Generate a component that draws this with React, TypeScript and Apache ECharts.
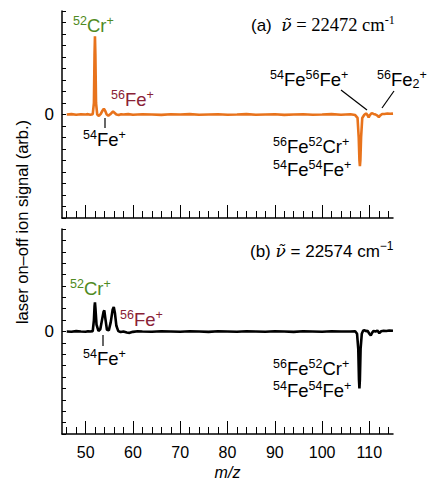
import React, { useEffect, useRef } from "react";
import * as echarts from "echarts";

// m/z, signal (arb.) — panel (a), ν̃ = 22472 cm-1
const spectrumA: [number, number][] = [
  [46, 0], [47, 0.03], [48, -0.02], [49, 0.02], [50, 0], [50.5, 0.03], [51, -0.02], [51.5, 0.03],
  [51.75, 1.0], [51.88, 5.2], [51.97, 6.8], [52.06, 5.2], [52.2, 1.0], [52.45, 0], [52.8, -0.12],
  [53.2, 0.05], [53.5, 0.3], [53.85, 0.5], [54.15, 0.3], [54.45, 0], [54.8, -0.1], [55.2, 0.02],
  [55.5, 0.15], [55.8, 0.25], [56.1, 0.15], [56.5, 0], [57, -0.05], [57.5, 0.02], [58, 0],
  [59, 0.03], [60, -0.02], [62, 0.02], [64, 0], [66, -0.03], [68, 0.02], [70, 0], [72, 0.03],
  [74, -0.02], [76, 0], [78, 0.02], [80, -0.02], [82, 0], [84, 0.03], [86, -0.02], [88, 0],
  [90, 0.02], [92, -0.03], [94, 0], [96, 0.02], [98, -0.02], [100, 0], [102, 0.03], [104, -0.02],
  [105, 0], [106, 0.02], [107, -0.05], [107.5, -0.3], [107.75, -2.0], [107.9, -4.0], [108, -4.5],
  [108.1, -4.0], [108.25, -2.0], [108.5, -0.3], [108.9, -0.05], [109.3, 0.1], [109.6, -0.05],
  [109.85, -0.25], [110.1, -0.05], [110.5, 0.12], [110.9, 0.05], [111.3, 0], [111.7, -0.1],
  [112, -0.22], [112.3, -0.08], [112.7, 0.05], [113.2, 0.05], [113.8, 0.08], [114.4, 0.06], [115, 0.08],
];

// m/z, signal (arb.) — panel (b), ν̃ = 22574 cm-1
const spectrumB: [number, number][] = [
  [46, 0], [47, -0.02], [48, 0.03], [49, 0], [50, -0.02], [50.5, 0.02], [51, 0], [51.5, 0.03],
  [51.75, 1.0], [51.88, 2.2], [51.97, 2.55], [52.08, 2.0], [52.3, 0.6], [52.7, 0.05], [53.1, 0.2],
  [53.5, 1.1], [53.8, 1.75], [53.95, 1.85], [54.15, 1.2], [54.5, 0.15], [54.9, 0.1], [55.3, 0.8],
  [55.7, 1.9], [55.95, 2.15], [56.2, 1.6], [56.5, 0.5], [56.9, 0.03], [57.4, -0.05], [58, 0],
  [58.7, -0.08], [59.3, -0.12], [60, -0.03], [61, 0.02], [62, 0], [64, -0.02], [66, 0.02], [68, 0],
  [70, -0.02], [72, 0.02], [74, 0], [76, -0.03], [78, 0.02], [80, 0], [82, -0.02], [84, 0.02],
  [86, 0], [88, -0.02], [90, 0.02], [92, 0], [94, -0.03], [96, 0.02], [98, 0], [100, -0.02],
  [102, 0.02], [104, 0], [106, 0], [107, 0.02], [107.4, -0.2], [107.65, -1.5], [107.8, -4.2],
  [107.9, -5.0], [108.0, -4.2], [108.15, -1.5], [108.4, -0.2], [108.7, 0.08], [109, 0.1],
  [109.3, 0.02], [109.6, 0.08], [110, -0.2], [110.3, -0.35], [110.6, -0.1], [110.9, 0.05],
  [111.3, 0], [111.7, 0.08], [112.1, -0.15], [112.5, 0.02], [113, 0.06], [113.6, 0.04],
  [114.2, 0.08], [115, 0.06],
];

const xMajorTicks = [50, 60, 70, 80, 90, 100, 110];
const xMinorTicks = [46, 48, 52, 54, 56, 58, 62, 64, 66, 68, 72, 74, 76, 78, 82, 84, 86, 88, 92, 94, 96, 98, 102, 104, 106, 108, 112, 114];
const yZeroLabel = "0";
const xAxisName = "m/z";
const yAxisName = "laser on–off ion signal (arb.)";

const ORANGE = "#e8731c";
const GREEN = "#4f8a22";
const WINE = "#8a2236";
const SANS = "'Liberation Sans', Arial, Helvetica, sans-serif";
const SERIF = "'Liberation Serif', 'Times New Roman', serif";
const NU_FONT = "'DejaVu Serif', serif";

const richIon = {
  m: { fontSize: 18.5, lineHeight: 22, fontFamily: SANS },
  u: { fontSize: 12.5, lineHeight: 12, fontFamily: SANS, verticalAlign: "top" },
  d: { fontSize: 12.5, lineHeight: 12, fontFamily: SANS, verticalAlign: "bottom" },
};

const ionText = (x: number, y: number, text: string, fill: string) => ({
  type: "text",
  x,
  y,
  silent: true,
  style: { text, rich: richIon, fill, align: "left", verticalAlign: "middle" },
});

const tick = (x1: number, y1: number, x2: number, y2: number) => ({
  type: "line",
  silent: true,
  shape: { x1, y1, x2, y2 },
  style: { stroke: "#000", lineWidth: 1.2 },
});

export default function App() {
  const ref = useRef<HTMLDivElement>(null);

  useEffect(() => {
    if (!ref.current) return;
    const chart = echarts.init(ref.current, undefined, { renderer: "svg" });

    const axisLineStyle = { color: "#000", width: 1.5 };

    const yAxisCommon = (gridIndex: number) => ({
      type: "value",
      gridIndex,
      min: -9,
      max: 9,
      interval: 1,
      axisLine: { show: true, onZero: false, lineStyle: axisLineStyle },
      axisTick: { show: true, inside: true, length: 4, lineStyle: { color: "#000", width: 1 } },
      axisLabel: {
        formatter: (v: number) => (v === 0 ? yZeroLabel : ""),
        fontSize: 17,
        color: "#000",
        fontFamily: SANS,
        margin: 8,
      },
      splitLine: { show: false },
    });

    const xMajor = (gridIndex: number, labels: boolean) => ({
      type: "value",
      gridIndex,
      min: 45,
      max: 115,
      position: "bottom",
      axisLine: { show: true, onZero: false, lineStyle: axisLineStyle },
      axisTick: { show: true, inside: true, length: 13, customValues: xMajorTicks, lineStyle: { color: "#000", width: 1 } },
      axisLabel: {
        show: labels,
        customValues: xMajorTicks,
        fontSize: 16,
        color: "#000",
        fontFamily: SANS,
        margin: 10,
      },
      splitLine: { show: false },
      name: labels ? xAxisName : "",
      nameLocation: "middle",
      nameGap: 30,
      nameTextStyle: { fontSize: 16, fontStyle: "italic", color: "#000", fontFamily: SANS },
    });

    const xMinor = (gridIndex: number) => ({
      type: "value",
      gridIndex,
      min: 45,
      max: 115,
      position: "bottom",
      axisLine: { show: false, onZero: false },
      axisTick: { show: true, inside: true, length: 7, customValues: xMinorTicks, lineStyle: { color: "#000", width: 1 } },
      axisLabel: { show: false },
      splitLine: { show: false },
    });

    chart.setOption({
      animation: false,
      backgroundColor: "#fff",
      grid: [
        { left: 62, top: 11, width: 331, height: 207 },
        { left: 62, top: 229, width: 331, height: 205 },
      ],
      xAxis: [xMajor(0, false), xMinor(0), xMajor(1, true), xMinor(1)],
      yAxis: [yAxisCommon(0), yAxisCommon(1)],
      series: [
        {
          type: "line",
          xAxisIndex: 0,
          yAxisIndex: 0,
          data: spectrumA,
          showSymbol: false,
          symbol: "none",
          silent: true,
          lineStyle: { color: ORANGE, width: 2.6 },
        },
        {
          type: "line",
          xAxisIndex: 2,
          yAxisIndex: 1,
          data: spectrumB,
          showSymbol: false,
          symbol: "none",
          silent: true,
          lineStyle: { color: "#000", width: 2.6 },
        },
      ],
      graphic: [
        {
          type: "text",
          x: 22,
          y: 222,
          rotation: Math.PI / 2,
          silent: true,
          style: { text: yAxisName, fontSize: 16.5, fontFamily: SANS, fill: "#000", align: "center", verticalAlign: "middle" },
        },
        // panel (a)
        {
          type: "text",
          x: 251,
          y: 25,
          silent: true,
          style: {
            text: "{s|(a)  }{nu|ν̃}{r| = 22472 cm}{u|-1}",
            fill: "#000",
            align: "left",
            verticalAlign: "middle",
            rich: {
              s: { fontSize: 17, fontFamily: SANS, lineHeight: 22 },
              nu: { fontSize: 17, fontFamily: NU_FONT, fontStyle: "italic", lineHeight: 22 },
              r: { fontSize: 18.5, fontFamily: SERIF, lineHeight: 22 },
              u: { fontSize: 12, fontFamily: SERIF, lineHeight: 12, verticalAlign: "top" },
            },
          },
        },
        ionText(73, 25, "{u|52}{m|Cr}{u|+}", GREEN),
        ionText(111, 99, "{u|56}{m|Fe}{u|+}", WINE),
        ionText(83, 139, "{u|54}{m|Fe}{u|+}", "#000"),
        tick(105, 118, 105, 128),
        ionText(270, 79, "{u|54}{m|Fe}{u|56}{m|Fe}{u|+}", "#000"),
        ionText(377, 79, "{u|56}{m|Fe}{d|2}{u|+}", "#000"),
        tick(341, 90, 367, 110),
        tick(394, 91, 382, 108),
        ionText(273, 146, "{u|56}{m|Fe}{u|52}{m|Cr}{u|+}", "#000"),
        ionText(273, 169, "{u|54}{m|Fe}{u|54}{m|Fe}{u|+}", "#000"),
        // panel (b)
        {
          type: "text",
          x: 250,
          y: 251,
          silent: true,
          style: {
            text: "{s|(b) }{nu|ν̃}{r| = 22574 cm}{u|−1}",
            fill: "#000",
            align: "left",
            verticalAlign: "middle",
            rich: {
              s: { fontSize: 17, fontFamily: SANS, lineHeight: 22 },
              nu: { fontSize: 17, fontFamily: NU_FONT, fontStyle: "italic", lineHeight: 22 },
              r: { fontSize: 17, fontFamily: SANS, lineHeight: 22 },
              u: { fontSize: 12, fontFamily: SANS, lineHeight: 12, verticalAlign: "top" },
            },
          },
        },
        ionText(70, 288, "{u|52}{m|Cr}{u|+}", GREEN),
        ionText(120, 319, "{u|56}{m|Fe}{u|+}", WINE),
        ionText(83, 358, "{u|54}{m|Fe}{u|+}", "#000"),
        tick(103, 335, 103, 346),
        ionText(273, 368, "{u|56}{m|Fe}{u|52}{m|Cr}{u|+}", "#000"),
        ionText(273, 390, "{u|54}{m|Fe}{u|54}{m|Fe}{u|+}", "#000"),
      ],
    });

    return () => chart.dispose();
  }, []);

  return (
    <div
      ref={ref}
      style={{ position: "fixed", left: 0, top: 0, width: 428, height: 482, background: "#fff" }}
    />
  );
}
